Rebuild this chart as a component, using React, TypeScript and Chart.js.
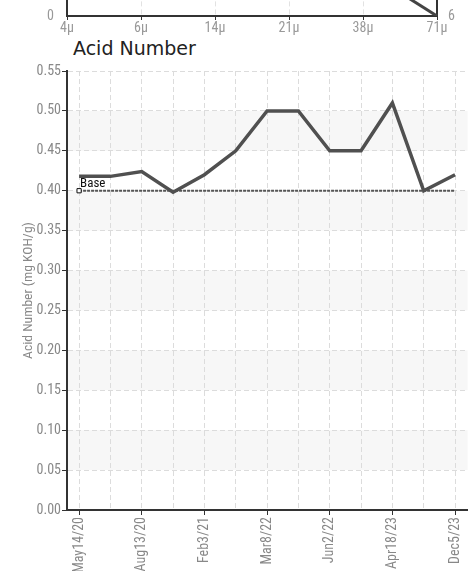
import React, { useEffect, useRef } from 'react';
import { Chart, registerables } from 'chart.js';

Chart.register(...registerables);

// ---- Data ----
// Acid Number samples (13 samples; every other sample date is labelled on the axis)
const sampleDateLabels = ['May14/20', 'Aug13/20', 'Feb3/21', 'Mar8/22', 'Jun2/22', 'Apr18/23', 'Dec5/23'];
const acidValues = [0.418, 0.418, 0.424, 0.398, 0.42, 0.45, 0.5, 0.5, 0.45, 0.45, 0.51, 0.4, 0.42];
const baseValue = 0.4;
const yTickValues = [0, 0.05, 0.1, 0.15, 0.2, 0.25, 0.3, 0.35, 0.4, 0.45, 0.5, 0.55];
const bandStarts = [0.05, 0.15, 0.25, 0.35, 0.45];

// Particle chart (only its bottom edge is visible above)
const particleSizes = ['4\u03bc', '6\u03bc', '14\u03bc', '21\u03bc', '38\u03bc', '71\u03bc'];
const particleCounts: (number | null)[] = [null, null, null, null, 5.4, 0];
const rightAxisLabels = ['6'];

const NARROW = "'Roboto Condensed', sans-serif";
const NF = (size: number) => ({ family: NARROW, size });

const bandPlugin = {
  id: 'bands',
  beforeDraw(chart: any) {
    const { ctx, chartArea, scales } = chart;
    const y = scales.y;
    ctx.save();
    ctx.fillStyle = '#f7f7f7';
    bandStarts.forEach((v) => {
      const top = y.getPixelForValue(v + 0.05);
      const bottom = y.getPixelForValue(v);
      ctx.fillRect(chartArea.left, top, chartArea.right - chartArea.left, bottom - top);
    });
    ctx.restore();
  },
};

const baseLabelPlugin = {
  id: 'baseLabel',
  afterDatasetsDraw(chart: any) {
    const meta = chart.getDatasetMeta(1);
    if (!meta || !meta.data.length) return;
    const p = meta.data[0];
    const { ctx } = chart;
    ctx.save();
    ctx.font = `13px ${NARROW}`;
    ctx.fillStyle = '#111';
    ctx.textBaseline = 'alphabetic';
    ctx.textAlign = 'left';
    ctx.fillText('Base', p.x + 1, p.y - 4);
    ctx.restore();
  },
};

export default function App() {
  const topRef = useRef<HTMLCanvasElement>(null);
  const mainRef = useRef<HTMLCanvasElement>(null);

  useEffect(() => {
    const topChart = new Chart(topRef.current as HTMLCanvasElement, {
      type: 'line',
      data: {
        labels: particleSizes,
        datasets: [
          {
            data: particleCounts,
            borderColor: '#444',
            borderWidth: 3,
            pointRadius: 0,
            tension: 0,
            spanGaps: false,
          },
        ],
      },
      options: {
        animation: false,
        responsive: false,
        events: [],
        layout: { padding: 0 },
        plugins: { legend: { display: false }, tooltip: { enabled: false } },
        scales: {
          x: {
            type: 'category',
            offset: false,
            grid: { color: '#e2e2e2', tickColor: '#333', tickLength: 4, drawOnChartArea: true },
            border: { color: '#333', width: 2, dash: [5, 3] },
            ticks: { color: '#999', font: NF(14), padding: 0, maxRotation: 0 },
            afterFit: (s: any) => { s.height = 20; },
          },
          y: {
            min: 0,
            max: 10,
            position: 'left',
            grid: { display: false },
            border: { color: '#333', width: 2 },
            afterBuildTicks: (s: any) => { s.ticks = [{ value: 0 }]; },
            ticks: { color: '#999', font: NF(14), padding: 5, callback: () => '0' },
            afterFit: (s: any) => { s.width = 67; },
          },
          y2: {
            min: 0,
            max: 10,
            position: 'right',
            grid: { display: false },
            border: { color: '#333', width: 2 },
            afterBuildTicks: (s: any) => { s.ticks = [{ value: 0 }]; },
            ticks: { color: '#999', font: NF(14), padding: 3, callback: () => rightAxisLabels[0] },
            afterFit: (s: any) => { s.width = 37; },
          },
        },
      },
    } as any);

    const mainChart = new Chart(mainRef.current as HTMLCanvasElement, {
      type: 'line',
      data: {
        datasets: [
          {
            label: 'Acid Number',
            data: acidValues.map((v, i) => ({ x: i, y: v })),
            borderColor: '#505050',
            borderWidth: 3.5,
            pointRadius: 0,
            tension: 0,
          },
          {
            label: 'Base',
            data: [
              { x: 0, y: baseValue },
              { x: acidValues.length - 1, y: baseValue },
            ],
            borderColor: '#555',
            borderWidth: 2,
            borderDash: [3, 1],
            pointRadius: [3, 0],
            pointStyle: 'rect',
            pointBackgroundColor: '#fff',
            pointBorderColor: '#111',
            pointBorderWidth: 1,
            tension: 0,
          },
        ],
      },
      options: {
        animation: false,
        responsive: false,
        events: [],
        layout: { padding: { top: 11, right: 0, left: 0, bottom: 0 } },
        plugins: { legend: { display: false }, tooltip: { enabled: false } },
        scales: {
          x: {
            type: 'linear',
            min: -0.386,
            max: 12.4,
            afterBuildTicks: (s: any) => {
              s.ticks = acidValues.map((_, i) => ({ value: i }));
            },
            grid: {
              color: '#dcdcdc',
              tickLength: 5,
              tickColor: (c: any) => (c.tick && c.tick.value % 2 === 0 ? '#333' : 'rgba(0,0,0,0)'),
            },
            border: { color: '#333', width: 2, dash: [5, 3] },
            ticks: {
              autoSkip: false,
              maxRotation: 90,
              minRotation: 90,
              padding: 2,
              color: '#888',
              font: NF(14),
              callback: (v: any) => (v % 2 === 0 ? sampleDateLabels[v / 2] : ''),
            },
            afterFit: (s: any) => { s.height = 90; },
          },
          y: {
            min: 0,
            max: 0.55,
            afterBuildTicks: (s: any) => {
              s.ticks = yTickValues.map((v) => ({ value: v }));
            },
            grid: { color: '#dcdcdc', tickColor: '#333', tickLength: 5 },
            border: { color: '#333', width: 2, dash: [5, 3] },
            ticks: {
              color: '#888',
              padding: 1,
              font: NF(14),
              callback: (v: any) => Number(v).toFixed(2),
            },
            title: {
              display: true,
              text: 'Acid Number (mg KOH/g)',
              color: '#888',
              font: NF(13.6),
              padding: { top: 20, bottom: 0 },
            },
            afterFit: (s: any) => { s.width = 67; },
          },
        },
      },
      plugins: [bandPlugin, baseLabelPlugin],
    } as any);

    return () => {
      topChart.destroy();
      mainChart.destroy();
    };
  }, []);

  return (
    <div
      style={{
        position: 'fixed',
        left: 0,
        top: 0,
        width: 474,
        height: 571,
        overflow: 'hidden',
        background: '#fff',
      }}
    >
      <canvas ref={topRef} width={474} height={120} style={{ position: 'absolute', left: 0, top: -84 }} />
      <div
        style={{
          position: 'absolute',
          left: 73,
          top: 38,
          fontFamily: "'DejaVu Sans', sans-serif",
          fontSize: 19,
          lineHeight: '20px',
          color: '#222',
          whiteSpace: 'nowrap',
        }}
      >
        Acid Number
      </div>
      <canvas ref={mainRef} width={474} height={540} style={{ position: 'absolute', left: 0, top: 60 }} />
    </div>
  );
}
